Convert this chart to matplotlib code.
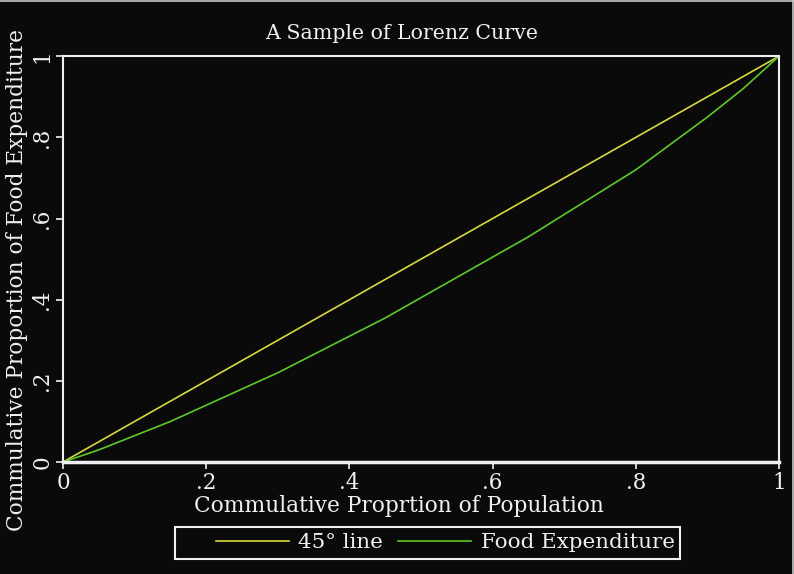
"""Lorenz curve sample: food expenditure vs population share."""
import numpy as np
import matplotlib.pyplot as plt
from matplotlib.patches import Rectangle
from matplotlib.lines import Line2D

# cumulative population share and values
pop_share = [0.0, 0.05, 0.1, 0.15, 0.2, 0.25, 0.3, 0.35, 0.4, 0.45, 0.5,
             0.55, 0.6, 0.65, 0.7, 0.75, 0.8, 0.85, 0.9, 0.95, 1.0]
line_45 = [0.0, 0.05, 0.1, 0.15, 0.2, 0.25, 0.3, 0.35, 0.4, 0.45, 0.5,
           0.55, 0.6, 0.65, 0.7, 0.75, 0.8, 0.85, 0.9, 0.95, 1.0]
food_exp = [0.0, 0.03, 0.065, 0.10, 0.14, 0.18, 0.22, 0.265, 0.31, 0.355, 0.405,
            0.455, 0.505, 0.555, 0.61, 0.665, 0.72, 0.785, 0.85, 0.92, 1.0]

xticks = [0, 0.2, 0.4, 0.6, 0.8, 1]
tick_labels = ["0", ".2", ".4", ".6", ".8", "1"]

BG = "#0a0a0a"
FG = "#f0f0f0"
YELLOW = "#d8d83c"
GREEN = "#5cc82a"

plt.rcParams["font.family"] = ["DejaVu Serif"]

fig = plt.figure(figsize=(7.94, 5.74), dpi=100, facecolor=BG)
ax = fig.add_axes([0.0793, 0.195, 0.9017, 0.707], facecolor=BG)

ax.plot(pop_share, line_45, color=YELLOW, linewidth=1.2, label="45° line")
ax.plot(pop_share, food_exp, color=GREEN, linewidth=1.2, label="Food Expenditure")

ax.set_xlim(0, 1)
ax.set_ylim(0, 1)
ax.set_xticks(xticks, tick_labels)
ax.set_yticks(xticks, tick_labels, rotation=90, va="center")

for side in ["left", "top", "right"]:
    ax.spines[side].set_color(FG)
    ax.spines[side].set_linewidth(1.5)
ax.spines["bottom"].set_color(FG)
ax.spines["bottom"].set_linewidth(2.5)

ax.tick_params(colors=FG, labelcolor=FG, labelsize=15.5, length=5, width=1.2, pad=2)

# axis titles and chart title, placed as in the original
fig.text(0.503, 0.119, "Commulative Proprtion of Population", color=FG,
         fontsize=15.7, ha="center", va="center")
fig.text(0.022, 0.512, "Commulative Proportion of Food Expenditure", color=FG,
         fontsize=15.6, ha="center", va="center", rotation=90)
fig.text(0.506, 0.942, "A Sample of Lorenz Curve", color=FG, fontsize=14.8,
         ha="center", va="center")

# legend with a square white frame
fig.add_artist(Rectangle((175 / 794, 1 - 559 / 574), 505 / 794, 32 / 574,
                         transform=fig.transFigure, facecolor="none",
                         edgecolor=FG, linewidth=1.5))
fig.legend(loc="center left", bbox_to_anchor=(216 / 794, 1 - 543 / 574), ncol=2,
           fontsize=15.4, frameon=False, labelcolor=FG, handlelength=3.4,
           columnspacing=0.7, borderpad=0, handletextpad=0.45, borderaxespad=0)

# faint image border at top and right
fig.add_artist(Line2D([0, 1], [0.999, 0.999], transform=fig.transFigure,
                      color="#c8c8c8", linewidth=1.2))
fig.add_artist(Line2D([0.9985, 0.9985], [0, 1], transform=fig.transFigure,
                      color="#c8c8c8", linewidth=1.2))

fig.savefig("out.png", dpi=100, facecolor=BG)
